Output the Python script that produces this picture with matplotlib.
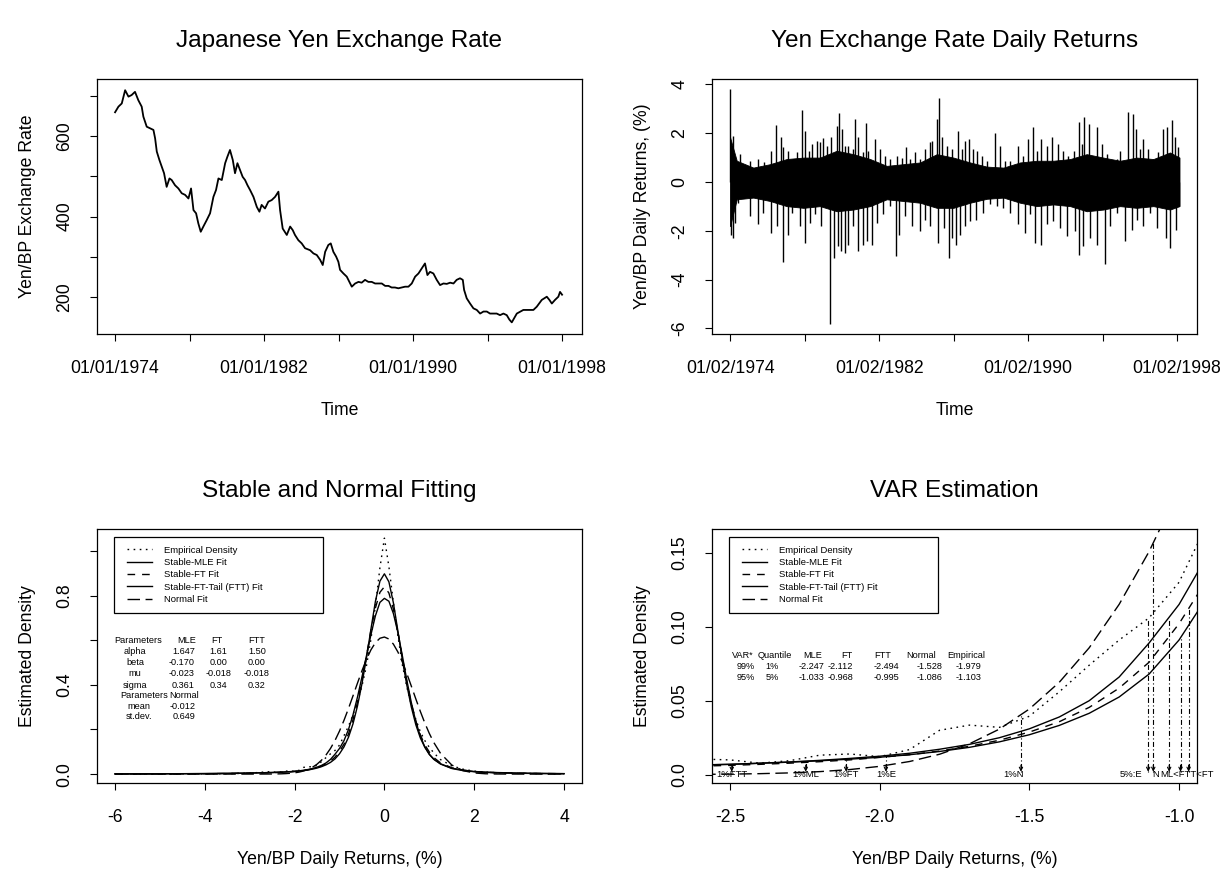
import matplotlib.pyplot as plt
from matplotlib.patches import Rectangle

plt.rcParams['font.family'] = ['Liberation Sans', 'DejaVu Sans']

# ---------------- data ----------------
# Yen/BP exchange rate, decimal year and rate
rate_year = [1974.00, 1974.18, 1974.36, 1974.54, 1974.72, 1974.89, 1975.07, 1975.25, 1975.43, 1975.52,
             1975.70, 1975.88, 1976.06, 1976.15, 1976.24, 1976.38, 1976.51, 1976.63, 1976.77, 1976.92,
             1977.04, 1977.22, 1977.40, 1977.58, 1977.76, 1977.94, 1978.08, 1978.21, 1978.35, 1978.47,
             1978.60, 1978.74, 1978.92, 1979.10, 1979.28, 1979.42, 1979.55, 1979.73, 1979.91, 1980.03,
             1980.17, 1980.32, 1980.44, 1980.57, 1980.71, 1980.85, 1980.98, 1981.11, 1981.25, 1981.43,
             1981.61, 1981.75, 1981.87, 1982.05, 1982.23, 1982.41, 1982.59, 1982.77, 1982.86, 1983.00,
             1983.22, 1983.40, 1983.54, 1983.66, 1983.84, 1984.02, 1984.20, 1984.47, 1984.65, 1984.83,
             1985.01, 1985.15, 1985.28, 1985.45, 1985.58, 1985.72, 1985.87, 1985.99, 1986.08, 1986.26,
             1986.44, 1986.58, 1986.71, 1986.89, 1987.07, 1987.24, 1987.42, 1987.60, 1987.78, 1987.96,
             1988.14, 1988.32, 1988.50, 1988.68, 1988.85, 1989.03, 1989.21, 1989.39, 1989.57, 1989.75,
             1989.93, 1990.11, 1990.29, 1990.47, 1990.64, 1990.77, 1990.91, 1991.09, 1991.27, 1991.45,
             1991.63, 1991.81, 1991.99, 1992.17, 1992.34, 1992.52, 1992.67, 1992.74, 1992.88, 1993.06,
             1993.24, 1993.42, 1993.60, 1993.78, 1993.96, 1994.13, 1994.31, 1994.49, 1994.67, 1994.85,
             1995.03, 1995.17, 1995.30, 1995.57, 1995.92, 1996.28, 1996.46, 1996.64, 1996.91, 1997.18,
             1997.32, 1997.45, 1997.62, 1997.80, 1997.89, 1998.00]
rate_value = [660, 674, 682, 715, 699, 703, 711, 690, 674, 649,
              624, 620, 616, 595, 562, 541, 524, 508, 474, 495,
              491, 478, 470, 458, 454, 445, 470, 416, 408, 383,
              362, 375, 391, 408, 449, 466, 495, 491, 533, 549,
              566, 541, 508, 533, 516, 499, 491, 478, 466, 449,
              424, 412, 429, 420, 437, 441, 449, 462, 416, 370,
              354, 375, 366, 354, 341, 333, 321, 316, 308, 304,
              292, 279, 312, 329, 333, 312, 300, 287, 267, 258,
              250, 237, 225, 233, 237, 235, 242, 237, 237, 233,
              233, 233, 227, 227, 223, 223, 221, 223, 225, 225,
              233, 250, 258, 271, 283, 254, 262, 258, 242, 229,
              233, 232, 235, 233, 242, 246, 242, 217, 196, 183,
              171, 167, 158, 163, 163, 158, 158, 158, 154, 158,
              154, 143, 136, 158, 167, 167, 167, 175, 192, 200,
              192, 183, 192, 200, 212, 205]

# daily returns: dense core band and the visible spikes
band_year = [1974.00, 1974.36, 1975.25, 1976.15, 1977.04, 1977.94, 1978.83, 1979.73, 1980.62, 1981.52,
             1982.41, 1983.31, 1984.20, 1985.10, 1985.99, 1986.89, 1987.78, 1988.68, 1989.57, 1990.47,
             1991.36, 1992.26, 1993.15, 1994.04, 1994.94, 1995.83, 1996.73, 1997.62, 1998.13]
band_hi = [1.83, 0.87, 0.59, 0.73, 0.94, 1.00, 1.00, 1.28, 1.14, 0.94,
           0.66, 0.73, 0.80, 1.14, 1.00, 0.80, 0.63, 0.59, 0.80, 0.87,
           0.87, 0.94, 1.14, 1.00, 0.87, 1.00, 0.94, 1.21, 1.00]
band_lo = [-1.81, -0.71, -0.64, -0.78, -0.99, -1.06, -0.99, -1.20, -1.13, -0.99,
           -0.71, -0.78, -0.85, -1.06, -1.06, -0.85, -0.69, -0.64, -0.85, -0.99,
           -0.92, -0.99, -1.20, -1.13, -0.99, -1.06, -0.99, -1.13, -0.99]

up_year = [1974.00, 1974.18, 1974.54, 1975.07, 1975.49, 1975.84, 1976.20, 1976.45, 1976.74, 1976.86,
           1977.13, 1977.31, 1977.58, 1977.85, 1978.03, 1978.26, 1978.38, 1978.65, 1978.83, 1978.98,
           1979.19, 1979.42, 1979.73, 1979.87, 1980.00, 1980.17, 1980.35, 1980.59, 1980.73, 1980.89,
           1981.16, 1981.30, 1981.43, 1981.79, 1982.05, 1982.32, 1982.59, 1982.95, 1983.22, 1983.45,
           1983.66, 1983.93, 1984.20, 1984.47, 1984.74, 1984.86, 1985.10, 1985.24, 1985.36, 1985.63,
           1985.90, 1986.26, 1986.44, 1986.62, 1986.85, 1987.07, 1987.24, 1987.51, 1987.78, 1988.21,
           1988.50, 1988.77, 1989.03, 1989.48, 1989.75, 1990.02, 1990.25, 1990.47, 1990.70, 1991.00,
           1991.31, 1991.63, 1991.90, 1992.17, 1992.47, 1992.74, 1992.88, 1993.02, 1993.29, 1993.69,
           1993.96, 1994.22, 1994.49, 1994.76, 1994.94, 1995.35, 1995.62, 1995.80, 1996.01, 1996.19,
           1996.46, 1996.73, 1997.00, 1997.27, 1997.48, 1997.71, 1997.89, 1998.07]
up_value = [3.82, 1.88, 1.14, 0.87, 0.93, 0.80, 1.28, 2.34, 1.83, 1.42,
            1.28, 0.87, 1.21, 2.93, 2.10, 1.28, 1.55, 1.69, 1.62, 1.79,
            1.49, 1.83, 2.31, 2.82, 2.17, 1.49, 1.49, 1.35, 2.59, 1.83,
            1.21, 2.41, 1.28, 1.76, 1.35, 1.07, 0.93, 1.07, 1.00, 1.42,
            0.93, 1.21, 0.93, 1.35, 1.62, 1.69, 2.59, 3.45, 1.83, 1.49,
            1.35, 2.10, 1.35, 1.69, 1.76, 1.35, 1.28, 1.07, 0.87, 1.99,
            1.49, 0.87, 0.87, 1.49, 1.07, 1.76, 2.24, 1.28, 1.76, 1.49,
            1.83, 1.55, 1.28, 1.07, 1.28, 2.45, 1.55, 2.65, 2.38, 2.24,
            1.55, 1.14, 0.87, 0.93, 1.28, 2.86, 2.79, 2.17, 1.35, 1.76,
            1.35, 0.93, 1.21, 2.17, 2.24, 2.52, 1.83, 1.42]

down_year = [1974.05, 1974.18, 1974.27, 1974.45, 1975.07, 1975.49, 1975.79, 1976.20, 1976.51, 1976.83,
             1977.13, 1977.31, 1977.76, 1978.03, 1978.30, 1978.56, 1978.89, 1979.15, 1979.37, 1979.60,
             1979.82, 1979.96, 1980.17, 1980.35, 1980.62, 1980.85, 1981.12, 1981.34, 1981.61, 1981.87,
             1982.23, 1982.59, 1982.89, 1983.09, 1983.40, 1983.75, 1984.20, 1984.47, 1984.74, 1985.19,
             1985.49, 1985.74, 1985.90, 1986.13, 1986.35, 1986.62, 1986.89, 1987.21, 1987.60, 1987.96,
             1988.32, 1988.68, 1989.03, 1989.48, 1989.84, 1990.11, 1990.38, 1990.68, 1991.00, 1991.36,
             1991.72, 1992.08, 1992.52, 1992.76, 1992.97, 1993.33, 1993.69, 1994.13, 1994.40, 1994.76,
             1995.21, 1995.57, 1995.83, 1996.19, 1996.55, 1996.91, 1997.39, 1997.62, 1997.95, 1998.13]
down_value = [-2.16, -2.29, -1.68, -0.85, -1.40, -1.74, -1.26, -2.09, -1.81, -3.26,
              -2.16, -1.26, -1.81, -2.50, -1.68, -1.33, -1.81, -0.99, -5.82, -3.12,
              -2.64, -2.84, -2.91, -2.57, -1.81, -2.84, -2.57, -2.43, -2.57, -1.68,
              -1.33, -0.99, -3.02, -2.16, -1.40, -1.81, -2.02, -1.54, -1.81, -2.50,
              -1.88, -3.12, -2.29, -2.57, -2.16, -1.81, -1.61, -1.54, -1.26, -0.92,
              -0.99, -1.06, -1.26, -1.74, -2.09, -1.33, -2.50, -2.57, -1.74, -1.61,
              -1.88, -2.23, -2.02, -2.98, -2.64, -2.29, -2.57, -3.36, -1.81, -1.26,
              -2.43, -1.95, -1.54, -1.81, -1.26, -1.88, -2.29, -2.71, -1.95, -0.99]

# estimated densities on a common grid of returns (%)
dens_x = [-6.0, -5.0, -4.0, -3.5, -3.0, -2.6, -2.5, -2.4, -2.3, -2.2,
          -2.1, -2.0, -1.9, -1.8, -1.7, -1.6, -1.5, -1.4, -1.3, -1.2,
          -1.1, -1.0, -0.9, -0.8, -0.7, -0.6, -0.5, -0.4, -0.3, -0.2,
          -0.1, 0.0, 0.1, 0.2, 0.3, 0.4, 0.5, 0.6, 0.7, 0.8,
          0.9, 1.0, 1.1, 1.25, 1.5, 1.75, 2.0, 2.25, 2.5, 3.0,
          3.5, 4.0]
dens_emp = [0.0003, 0.0005, 0.0010, 0.0020, 0.0040, 0.0106, 0.0100, 0.0078, 0.0095, 0.0132,
            0.0140, 0.0122, 0.0170, 0.0300, 0.0335, 0.0320, 0.0395, 0.0560, 0.0740, 0.0910,
            0.1060, 0.1300, 0.172, 0.215, 0.265, 0.325, 0.395, 0.485, 0.605, 0.755,
            0.925, 1.058, 0.930, 0.770, 0.620, 0.490, 0.390, 0.310, 0.245, 0.190,
            0.150, 0.120, 0.095, 0.065, 0.037, 0.022, 0.013, 0.009, 0.006, 0.003,
            0.002, 0.001]
dens_mle = [0.0009, 0.0013, 0.0023, 0.0032, 0.0046, 0.0066, 0.0070, 0.0078, 0.0086, 0.0097,
            0.0110, 0.0125, 0.0145, 0.0172, 0.0205, 0.0250, 0.0310, 0.0390, 0.0500, 0.0660,
            0.0890, 0.1150, 0.150, 0.200, 0.265, 0.345, 0.435, 0.530, 0.625, 0.710,
            0.770, 0.788, 0.775, 0.720, 0.635, 0.530, 0.420, 0.320, 0.235, 0.170,
            0.122, 0.088, 0.066, 0.045, 0.025, 0.0155, 0.0105, 0.0076, 0.0058, 0.0036,
            0.0024, 0.0017]
dens_ft = [0.0006, 0.0009, 0.0017, 0.0025, 0.0038, 0.0058, 0.0063, 0.0070, 0.0078, 0.0088,
           0.0100, 0.0117, 0.0135, 0.0160, 0.0192, 0.0233, 0.0288, 0.0358, 0.0455, 0.0585,
           0.0760, 0.1020, 0.134, 0.180, 0.243, 0.322, 0.420, 0.530, 0.645, 0.745,
           0.815, 0.840, 0.812, 0.740, 0.638, 0.522, 0.413, 0.316, 0.238, 0.176,
           0.131, 0.099, 0.074, 0.050, 0.0283, 0.0173, 0.0115, 0.0083, 0.0062, 0.0038,
           0.0025, 0.0017]
dens_ftt = [0.0008, 0.0012, 0.0021, 0.0030, 0.0045, 0.0066, 0.0070, 0.0077, 0.0085, 0.0094,
            0.0105, 0.0118, 0.0135, 0.0157, 0.0185, 0.0222, 0.0270, 0.0333, 0.0415, 0.0525,
            0.0680, 0.0910, 0.122, 0.165, 0.225, 0.305, 0.405, 0.520, 0.650, 0.775,
            0.865, 0.898, 0.862, 0.768, 0.642, 0.512, 0.398, 0.300, 0.221, 0.162,
            0.120, 0.089, 0.067, 0.046, 0.0265, 0.0182, 0.0116, 0.0088, 0.0069, 0.0044,
            0.0030, 0.0021]
dens_norm = [0.0, 0.0, 0.0, 0.0, 0.00002, 0.00022, 0.00040, 0.00071, 0.00123, 0.00209,
             0.00347, 0.00564, 0.00893, 0.01382, 0.02089, 0.03081, 0.04438, 0.06244, 0.08577, 0.11510,
             0.15080, 0.19296, 0.24105, 0.29414, 0.35045, 0.40777, 0.46333, 0.51411, 0.55706, 0.58944,
             0.60908, 0.61460, 0.60562, 0.58276, 0.54762, 0.50251, 0.45032, 0.39407, 0.33676, 0.28103,
             0.22902, 0.18225, 0.14165, 0.09281, 0.04075, 0.01543, 0.00503, 0.00142, 0.00034, 0.00001,
             0.0, 0.0]

# fitted parameters
param_rows = ["alpha", "beta", "mu", "sigma"]
param_mle = ["1.647", "-0.170", "-0.023", "0.361"]
param_ft = ["1.61", "0.00", "-0.018", "0.34"]
param_ftt = ["1.50", "0.00", "-0.018", "0.32"]
norm_rows = ["mean", "st.dev."]
norm_vals = ["-0.012", "0.649"]

# VaR estimates, order: MLE, FT, FTT, Normal, Empirical
var_cols = ["MLE", "FT", "FTT", "Normal", "Empirical"]
var_99 = [-2.247, -2.112, -2.494, -1.528, -1.979]
var_95 = [-1.033, -0.968, -0.995, -1.086, -1.103]
var_99_dens = [0.0093, 0.0099, 0.0070, 0.0410, 0.0133]
var_95_dens = [0.106, 0.1135, 0.093, 0.158, 0.1045]

# ---------------- layout ----------------
W, H = 1228, 872
fig = plt.figure(figsize=(W / 100, H / 100), dpi=100)


def pix_axes(left, top, right, bottom):
    return fig.add_axes([left / W, 1 - bottom / H, (right - left) / W, (bottom - top) / H])


FS = 12.7
TITLE_FS = 17.6
SMALL = 6.8
TAB = 6.6


def style(ax):
    for s in ax.spines.values():
        s.set_linewidth(0.9)
    ax.tick_params(axis='both', direction='out', length=5, width=0.8, labelsize=FS)
    ax.tick_params(axis='x', pad=14)
    ax.tick_params(axis='y', pad=12)


ax1 = pix_axes(97, 79, 582, 334)
ax2 = pix_axes(712, 79, 1197, 334)
ax3 = pix_axes(97, 529, 582, 783)
ax4 = pix_axes(712, 529, 1197, 783)

year_ticks = [1974, 1978, 1982, 1986, 1990, 1994, 1998]

# --- top left: exchange rate
ax1.plot(rate_year, rate_value, color='black', lw=1.3)
ax1.set_xlim(1973.03, 1999.07)
ax1.set_ylim(107, 743)
ax1.set_xticks(year_ticks)
ax1.set_xticklabels(["01/01/1974", "", "01/01/1982", "", "01/01/1990", "", "01/01/1998"])
ax1.set_yticks([200, 300, 400, 500, 600, 700])
ax1.set_yticklabels(["200", "", "400", "", "600", ""], rotation=90, va='center')
ax1.set_xlabel("Time", fontsize=FS, labelpad=18)
ax1.set_ylabel("Yen/BP Exchange Rate", fontsize=FS, labelpad=15)
ax1.set_title("Japanese Yen Exchange Rate", fontsize=TITLE_FS, pad=23)
style(ax1)

# --- top right: daily returns
ax2.fill_between(band_year, band_lo, band_hi, color='black', lw=0.6)
ax2.vlines(up_year, 0, up_value, colors='black', lw=1.0)
ax2.vlines(down_year, down_value, 0, colors='black', lw=1.0)
ax2.set_xlim(1973.03, 1999.07)
ax2.set_ylim(-6.23, 4.22)
ax2.set_xticks(year_ticks)
ax2.set_xticklabels(["01/02/1974", "", "01/02/1982", "", "01/02/1990", "", "01/02/1998"])
ax2.set_yticks([-6, -4, -2, 0, 2, 4])
ax2.set_yticklabels(["-6", "-4", "-2", "0", "2", "4"], rotation=90, va='center')
ax2.set_xlabel("Time", fontsize=FS, labelpad=18)
ax2.set_ylabel("Yen/BP Daily Returns, (%)", fontsize=FS, labelpad=15)
ax2.set_title("Yen Exchange Rate Daily Returns", fontsize=TITLE_FS, pad=23)
style(ax2)

# --- density curves (both bottom panels)
dot_ls = (0, (1.2, 3.2))
dash_ls = (0, (5.5, 5.0))
long_ls = (0, (9.0, 4.0))
dashdot_ls = (0, (1.0, 2.2, 4.5, 2.2))


def draw_densities(ax):
    ax.plot(dens_x, dens_emp, color='black', lw=1.0, ls=dot_ls, label="Empirical Density")
    ax.plot(dens_x, dens_mle, color='black', lw=1.0, ls='-', label="Stable-MLE Fit")
    ax.plot(dens_x, dens_ft, color='black', lw=1.0, ls=dash_ls, label="Stable-FT Fit")
    ax.plot(dens_x, dens_ftt, color='black', lw=1.0, ls='-', label="Stable-FT-Tail (FTT) Fit")
    ax.plot(dens_x, dens_norm, color='black', lw=1.0, ls=long_ls, label="Normal Fit")
    ax.legend(loc='upper left', bbox_to_anchor=(0.0612, 0.935), frameon=False, fontsize=SMALL,
              handlelength=2.7, handletextpad=1.25, labelspacing=0.36, borderpad=0, borderaxespad=0)
    ax.add_patch(Rectangle((0.036, 0.670), 0.431, 0.297, transform=ax.transAxes,
                           fill=False, lw=0.9, ec='black'))


# --- bottom left
draw_densities(ax3)
ax3.set_xlim(-6.4, 4.4)
ax3.set_ylim(-0.04, 1.099)
ax3.set_xticks([-6, -4, -2, 0, 2, 4])
ax3.set_xticklabels(["-6", "-4", "-2", "0", "2", "4"])
ax3.set_yticks([0.0, 0.2, 0.4, 0.6, 0.8, 1.0])
ax3.set_yticklabels(["0.0", "", "0.4", "", "0.8", ""], rotation=90, va='center')
ax3.set_xlabel("Yen/BP Daily Returns, (%)", fontsize=FS, labelpad=18)
ax3.set_ylabel("Estimated Density", fontsize=FS, labelpad=15)
ax3.set_title("Stable and Normal Fitting", fontsize=TITLE_FS, pad=23)
style(ax3)

row_y = [0.599, 0.550, 0.500, 0.449, 0.397, 0.351, 0.302, 0.256]
ax3.text(-6.01, row_y[0], "Parameters", fontsize=TAB, ha='left', va='center')
ax3.text(-4.41, row_y[0], "MLE", fontsize=TAB, ha='center', va='center')
ax3.text(-3.72, row_y[0], "FT", fontsize=TAB, ha='center', va='center')
ax3.text(-2.85, row_y[0], "FTT", fontsize=TAB, ha='center', va='center')
for i, name in enumerate(param_rows):
    y = row_y[i + 1]
    ax3.text(-5.55, y, name, fontsize=TAB, ha='center', va='center')
    ax3.text(-4.22, y, param_mle[i], fontsize=TAB, ha='right', va='center')
    ax3.text(-3.69, y, param_ft[i], fontsize=TAB, ha='center', va='center')
    ax3.text(-2.84, y, param_ftt[i], fontsize=TAB, ha='center', va='center')
ax3.text(-5.875, row_y[5], "Parameters", fontsize=TAB, ha='left', va='center')
ax3.text(-4.80, row_y[5], "Normal", fontsize=TAB, ha='left', va='center')
for i, name in enumerate(norm_rows):
    y = row_y[6 + i]
    ax3.text(-5.46, y, name, fontsize=TAB, ha='center', va='center')
    ax3.text(-4.20, y, norm_vals[i], fontsize=TAB, ha='right', va='center')

# --- bottom right: VaR
draw_densities(ax4)
ax4.set_xlim(-2.56, -0.94)
ax4.set_ylim(-0.0056, 0.166)
ax4.set_xticks([-2.5, -2.0, -1.5, -1.0])
ax4.set_xticklabels(["-2.5", "-2.0", "-1.5", "-1.0"])
ax4.set_yticks([0.0, 0.05, 0.10, 0.15])
ax4.set_yticklabels(["0.0", "0.05", "0.10", "0.15"], rotation=90, va='center')
ax4.set_xlabel("Yen/BP Daily Returns, (%)", fontsize=FS, labelpad=18)
ax4.set_ylabel("Estimated Density", fontsize=FS, labelpad=15)
ax4.set_title("VAR Estimation", fontsize=TITLE_FS, pad=23)
style(ax4)

tip = 0.002
for xs, ds in [(var_99, var_99_dens), (var_95, var_95_dens)]:
    for x, d in zip(xs, ds):
        ax4.vlines(x, tip, d, colors='black', lw=0.8, linestyles=[dashdot_ls])
        ax4.annotate('', xy=(x, tip), xytext=(x, tip + 0.0045),
                     arrowprops=dict(arrowstyle='->', lw=0.8, color='black',
                                     shrinkA=0, shrinkB=0, mutation_scale=6))

lab_y = 0.0003
for name, x in zip(["1%ML", "1%FT", "1%FTT", "1%E"], [var_99[0], var_99[1], var_99[2], var_99[4]]):
    ax4.text(x, lab_y, name, fontsize=SMALL, ha='center', va='center')
ax4.text(var_99[3] + 0.008, lab_y, "1%N", fontsize=SMALL, ha='right', va='center')
ax4.text(var_95[4] - 0.02, lab_y, "5%:E", fontsize=SMALL, ha='right', va='center')
ax4.text(var_95[3] - 0.003, lab_y, "N", fontsize=SMALL, ha='left', va='center')
ax4.text(var_95[0] - 0.03, lab_y, "ML<FTT<FT", fontsize=SMALL, ha='left', va='center',
         clip_on=False)

hdr_x = [-2.458, -2.350, -2.224, -2.109, -1.989, -1.862, -1.712]
val_x = [-2.448, -2.358, -2.228, -2.132, -1.977, -1.832, -1.703]
tab_y = [0.0804, 0.0730, 0.0655]
for x, t in zip(hdr_x, ["VAR*", "Quantile"] + var_cols):
    ax4.text(x, tab_y[0], t, fontsize=TAB, ha='center', va='center')
for j, (lvl, q, vals) in enumerate([("99%", "1%", var_99), ("95%", "5%", var_95)]):
    cells = [lvl, q] + ["%.3f" % v for v in vals]
    for x, t in zip(val_x, cells):
        ax4.text(x, tab_y[j + 1], t, fontsize=TAB, ha='center', va='center')

fig.savefig("out.png", dpi=100)
